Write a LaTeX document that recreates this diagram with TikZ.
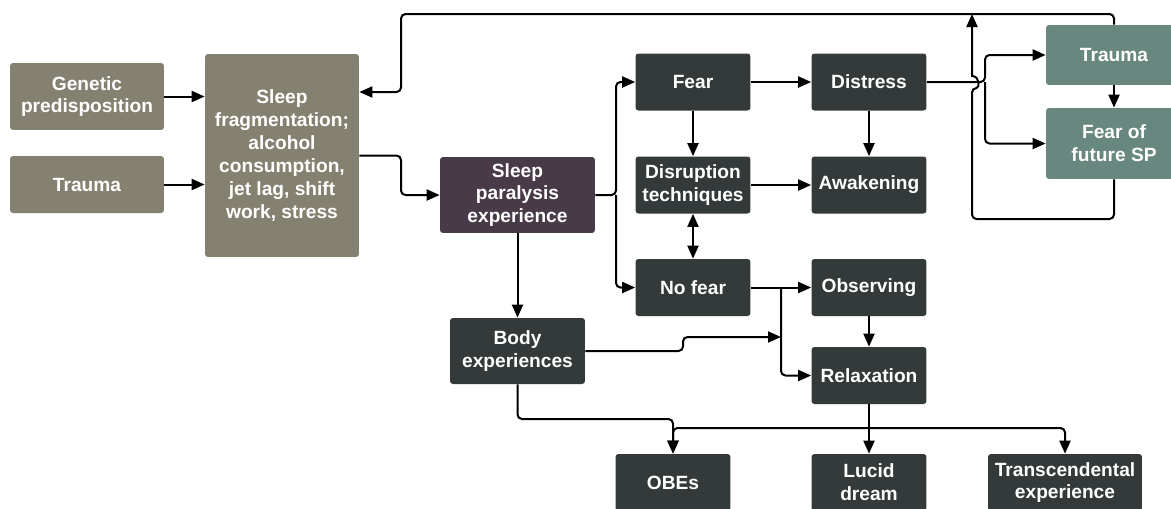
\documentclass[tikz,border=0pt]{standalone}
\usepackage{fontspec}
\setmainfont{Liberation Sans}
\usetikzlibrary{arrows.meta}

\definecolor{causebrown}{RGB}{133,129,113}
\definecolor{sppurple}{RGB}{72,58,70}
\definecolor{darkslate}{RGB}{52,58,58}
\definecolor{sageteal}{RGB}{104,135,127}

\tikzset{
  flowbox/.style={rounded corners=0.06cm, text=white, align=center, inner sep=0pt,
    font=\fontsize{10.9}{13}\selectfont\bfseries},
  causebox/.style={flowbox, fill=causebrown, minimum width=3.08cm},
  spbox/.style={flowbox, fill=sppurple, minimum width=3.1cm, minimum height=1.52cm},
  reactbox/.style={flowbox, fill=darkslate, minimum width=2.3cm, minimum height=1.14cm},
  outcomebox/.style={flowbox, fill=sageteal, minimum width=2.72cm},
  link/.style={->, line width=0.04cm, rounded corners=0.09cm}
}

\begin{document}
\begin{tikzpicture}[x=0.02cm, y=-0.02cm, >={Triangle[length=0.26cm, width=0.22cm]}]
            % frame
            \useasboundingbox (0,0) rectangle (1171,508);
            \clip (0,0) rectangle (1171,508);

            % Draw boxes
            \node[causebox, minimum height=1.34cm] (genetic) at (87,96.5) {Genetic\\predisposition};
            \node[causebox, minimum height=1.14cm] (traumaL) at (87,184.5) {Trauma};
            \node[causebox, minimum height=4.06cm] (frag) at (282,155.5) {Sleep\\fragmentation;\\alcohol\\consumption,\\jet lag, shift\\work, stress};
            \node[spbox] (spe) at (517.5,195) {Sleep\\paralysis\\experience};
            \node[reactbox] (fear) at (693,82) {Fear};
            \node[reactbox] (distress) at (869,82) {Distress};
            \node[reactbox] (disrupt) at (693,185) {Disruption\\techniques};
            \node[reactbox] (awake) at (869,185) {Awakening};
            \node[reactbox] (nofear) at (693,287.5) {No fear};
            \node[reactbox] (observe) at (869,287.5) {Observing};
            \node[reactbox, minimum width=2.7cm, minimum height=1.32cm] (body) at (517.5,351) {Body\\experiences};
            \node[reactbox] (relax) at (869,375.5) {Relaxation};
            \node[reactbox] (obes) at (673,482.5) {OBEs};
            \node[reactbox] (lucid) at (869,482.5) {Lucid\\dream};
            \node[reactbox, minimum width=3.08cm] (trans) at (1065,482.5) {Transcendental\\experience};
            \node[outcomebox, minimum height=1.2cm] (traumaR) at (1114,55) {Trauma};
            \node[outcomebox, minimum height=1.42cm] (fearfut) at (1114,143.5) {Fear of\\future SP};

            % bend points
            \coordinate (fragbend) at (401,92);
            \coordinate (splitA) at (616,0);
            \coordinate (splitB) at (781,0);
            \coordinate (bodystep) at (683,337);
            \coordinate (bodybus) at (0,419);
            \coordinate (outbus) at (0,428);
            \coordinate (splitC) at (985,0);
            \coordinate (topbus) at (0,14);
            \coordinate (loop) at (972,219);
            \coordinate (hoplow) at (0,88);
            \coordinate (hophigh) at (0,76);

            % Draw causes
            \draw[link] (genetic.east) -- (genetic.east -| frag.west);
            \draw[link] (traumaL.east) -- (traumaL.east -| frag.west);
            \draw[link] (frag.east) -- (frag.east -| fragbend) |- (spe.west);

            % Draw reactions
            \draw[link] (spe.east) -- (spe.east -| splitA) |- (fear.west);
            \draw[link] (spe.east -| splitA) |- (nofear.west);
            \draw[link] (spe) -- (body);
            \draw[link] (fear) -- (distress);
            \draw[link] (fear) -- (disrupt);
            \draw[link] (distress) -- (awake);
            \draw[link] (disrupt) -- (awake);
            \draw[link, <->] (disrupt) -- (nofear);
            \draw[link] (nofear) -- (observe);
            \draw[link] (nofear.east -| splitB) |- (relax.west);
            \draw[link] (body.east) -| (bodystep) -- (bodystep -| splitB);
            \draw[link] (observe) -- (relax);

            % Draw outcomes
            \draw[link] (relax) -- (lucid);
            \draw[link] (relax.south |- outbus) -| (obes.north);
            \draw[link] (relax.south |- outbus) -| (trans.north);
            \draw[link] (body.south) |- (bodybus -| obes.north) -- (obes.north);

            % Draw feedback
            \draw[link] (distress.east) -- (distress.east -| splitC) |- (traumaR.west);
            \draw[link] (distress.east -| splitC) |- (fearfut.west);
            \draw[link] (traumaR) -- (fearfut);
            \draw[link] (traumaR.north) |- (topbus -| fragbend) -- (fragbend) -- (fragbend -| frag.east);
            \draw[link] (fearfut.south) |- (loop) -- (loop |- hoplow) [sharp corners] .. controls +(8,0) and +(8,0) .. (loop |- hophigh) -- (loop |- topbus);
        \end{tikzpicture}
\end{document}
